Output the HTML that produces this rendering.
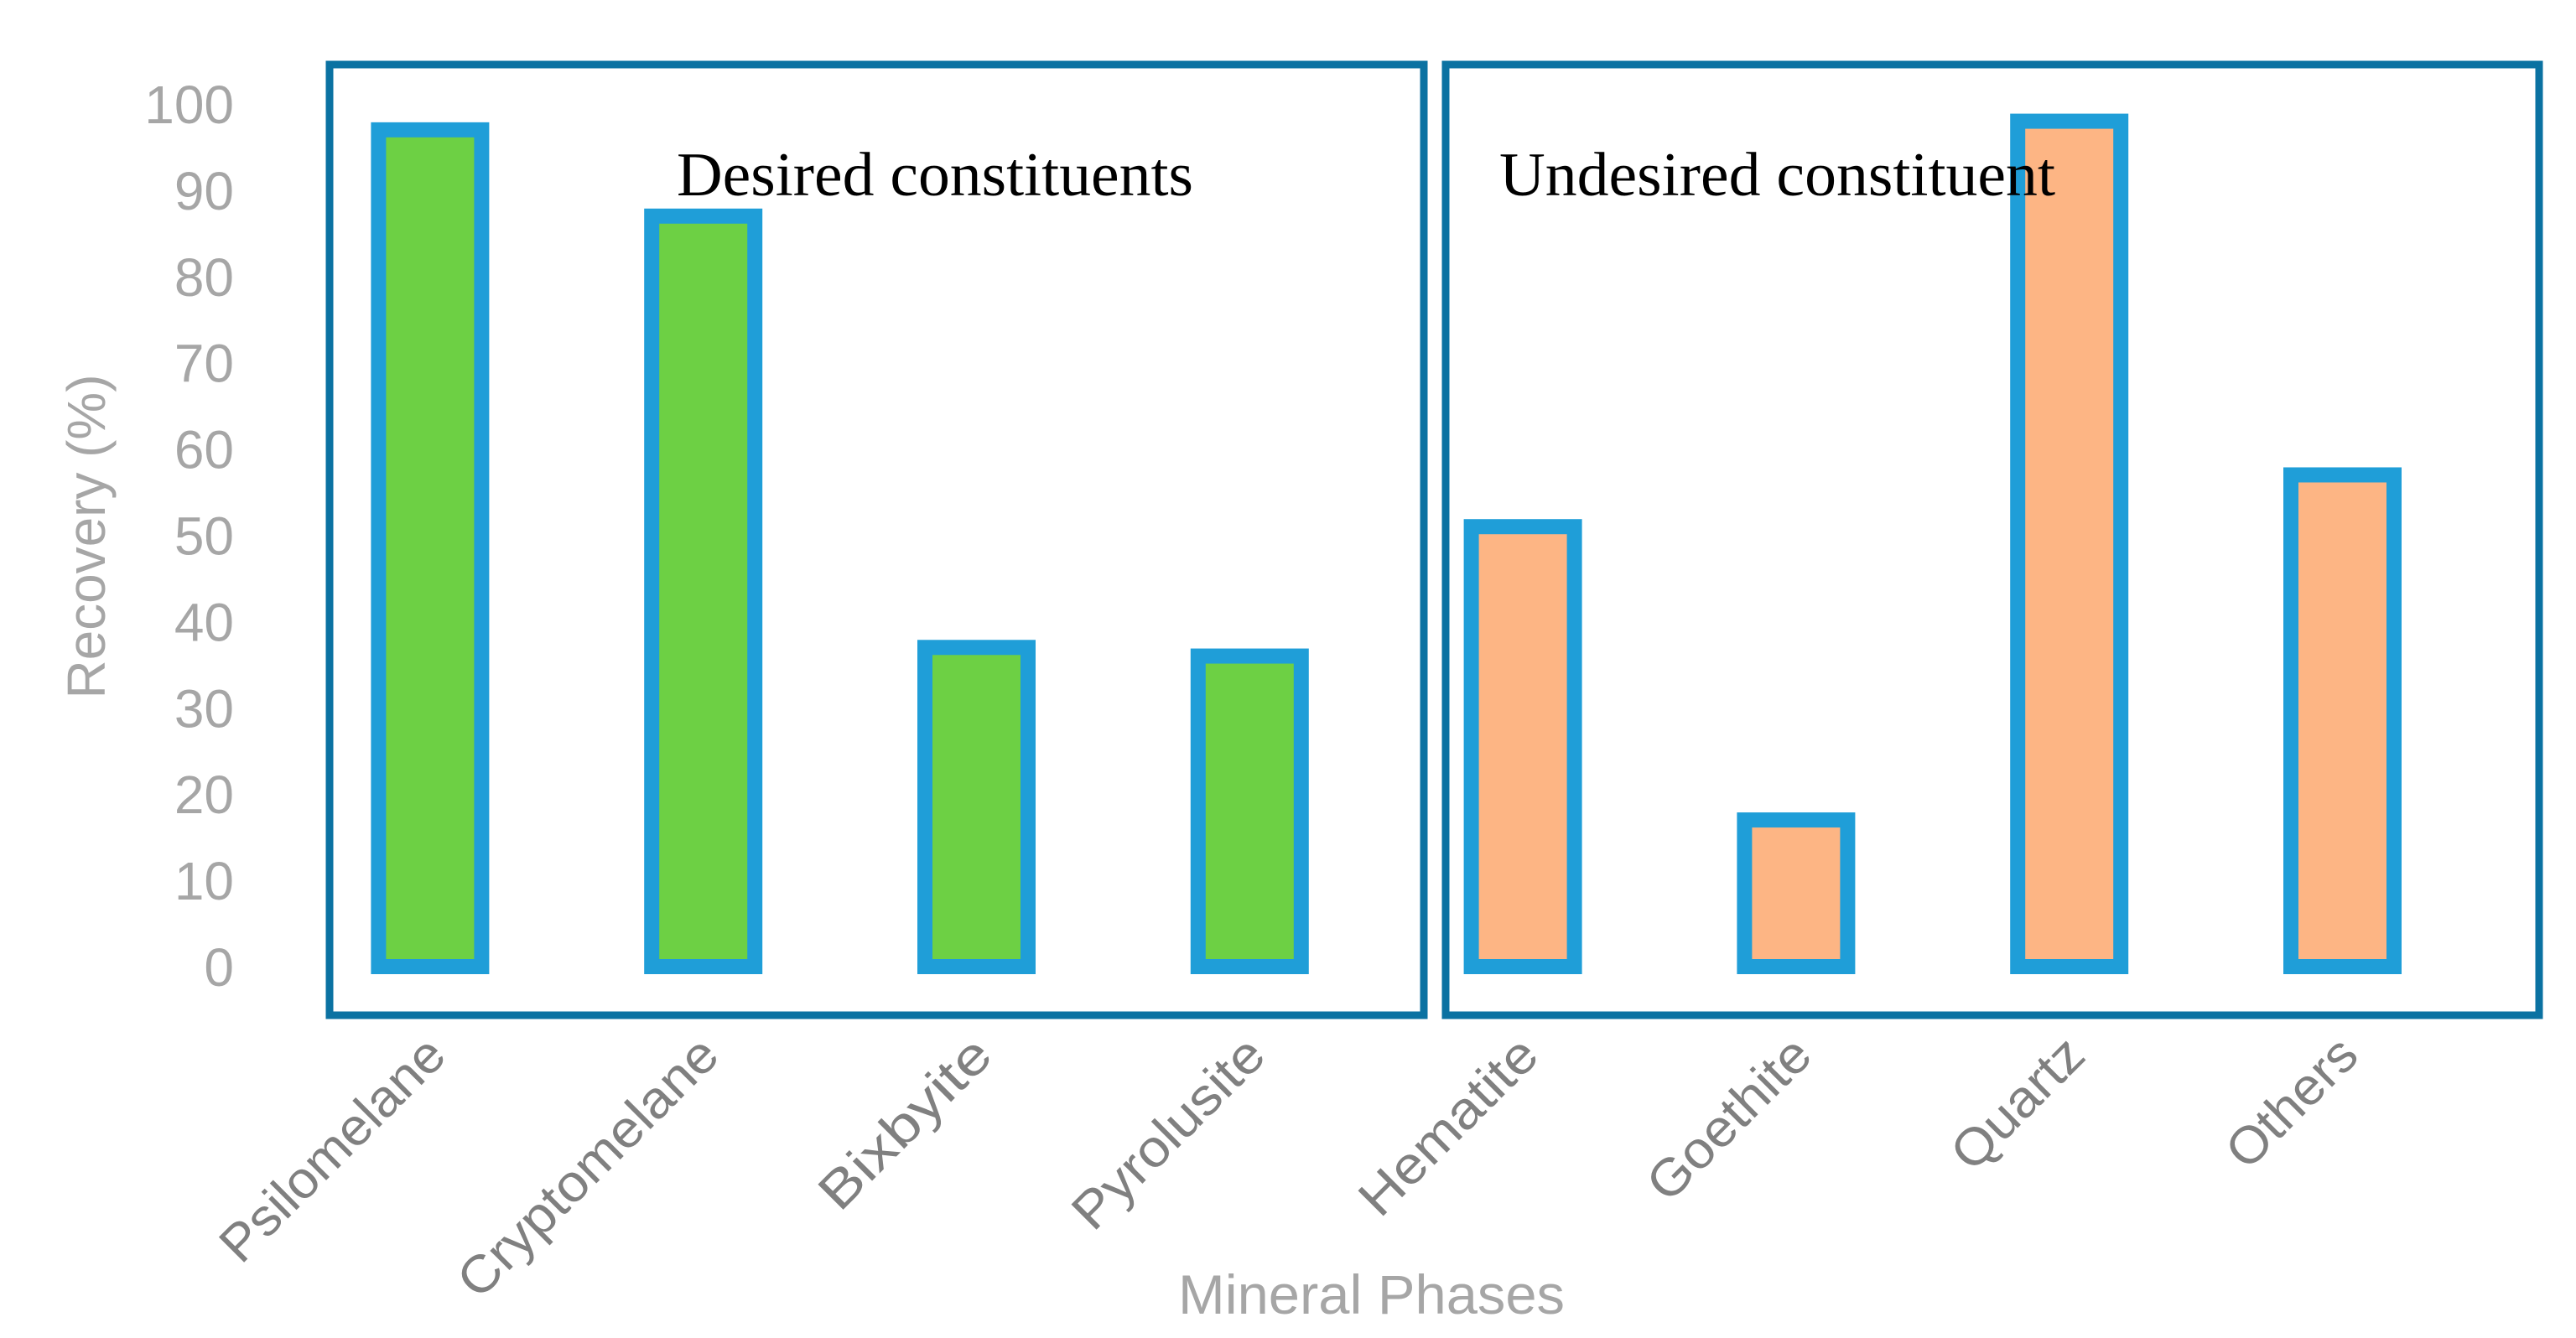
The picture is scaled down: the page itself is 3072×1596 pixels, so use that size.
<!DOCTYPE html>
<html><head><meta charset="utf-8"><style>
html,body{margin:0;padding:0;background:#fff;}
svg{display:block;}
</style></head><body>
<svg id="chart" width="3072" height="1596" viewBox="0 0 3072 1596" xmlns="http://www.w3.org/2000/svg">
<rect x="393" y="77" width="1305" height="1134" fill="none" stroke="#0b72a2" stroke-width="9"/>
<rect x="1724" y="77" width="1304" height="1134" fill="none" stroke="#0b72a2" stroke-width="9"/>
<g id="yticks"></g>
<g id="bars"></g>
<g id="xlabels"></g>
<text x="807" y="233" font-family="Liberation Serif, serif" font-size="74" fill="#000" textLength="616" lengthAdjust="spacingAndGlyphs">Desired constituents</text>
<text x="1788" y="233" font-family="Liberation Serif, serif" font-size="74" fill="#000" textLength="663" lengthAdjust="spacingAndGlyphs">Undesired constituent</text>
<text transform="translate(125,640) rotate(-90)" text-anchor="middle" font-family="Liberation Sans, sans-serif" font-size="64" fill="#a6a6a6" textLength="387" lengthAdjust="spacingAndGlyphs">Recovery (%)</text>
<text x="1405" y="1567" font-family="Liberation Sans, sans-serif" font-size="66" fill="#a6a6a6" textLength="461" lengthAdjust="spacingAndGlyphs">Mineral Phases</text>
</svg>
<script>
const categories = ["Psilomelane","Cryptomelane","Bixbyite","Pyrolusite","Hematite","Goethite","Quartz","Others"];
const recovery = [97, 87, 37, 36, 51, 17, 98, 57];
const groups = ["desired","desired","desired","desired","undesired","undesired","undesired","undesired"];
const yTicks = [0,10,20,30,40,50,60,70,80,90,100];
const labelLengths = [350,410,262,295,272,247,195,192];

const NS = "http://www.w3.org/2000/svg";
const y0 = 1153, y100 = 124;
function yScale(v){ return y0 + (y100 - y0) * v / 100; }
const xLeft = 350, step = 325.8;
function xCenter(i){ return xLeft + step * (i + 0.5); }
const barW = 123;

const yt = document.getElementById('yticks');
yTicks.forEach(t => {
  const el = document.createElementNS(NS,'text');
  el.setAttribute('x', 279);
  el.setAttribute('y', yScale(t) + 23);
  el.setAttribute('text-anchor','end');
  el.setAttribute('font-family','Liberation Sans, sans-serif');
  el.setAttribute('font-size','64');
  el.setAttribute('fill','#a6a6a6');
  el.textContent = t;
  
  
  yt.appendChild(el);
});

const bg = document.getElementById('bars');
recovery.forEach((v,i) => {
  const r = document.createElementNS(NS,'rect');
  const top = yScale(v);
  r.setAttribute('x', xCenter(i) - barW/2);
  r.setAttribute('y', top);
  r.setAttribute('width', barW);
  r.setAttribute('height', y0 - top);
  r.setAttribute('fill', groups[i] === 'desired' ? '#6dd044' : '#fdb584');
  r.setAttribute('stroke', '#1f9ed8');
  r.setAttribute('stroke-width', '18');
  
  
  bg.appendChild(r);
});

const xl = document.getElementById('xlabels');
categories.forEach((c,i) => {
  const el = document.createElementNS(NS,'text');
  const ax = xCenter(i) + 22, ay = 1262;
  el.setAttribute('transform','translate(' + ax + ',' + ay + ') rotate(-45)');
  el.setAttribute('text-anchor','end');
  el.setAttribute('font-family','Liberation Sans, sans-serif');
  el.setAttribute('font-size','62');
  el.setAttribute('fill','#808080');
  el.setAttribute('textLength', labelLengths[i]);
  el.setAttribute('lengthAdjust','spacingAndGlyphs');
  el.textContent = c;
  
  
  xl.appendChild(el);
});
</script>
</body></html>
